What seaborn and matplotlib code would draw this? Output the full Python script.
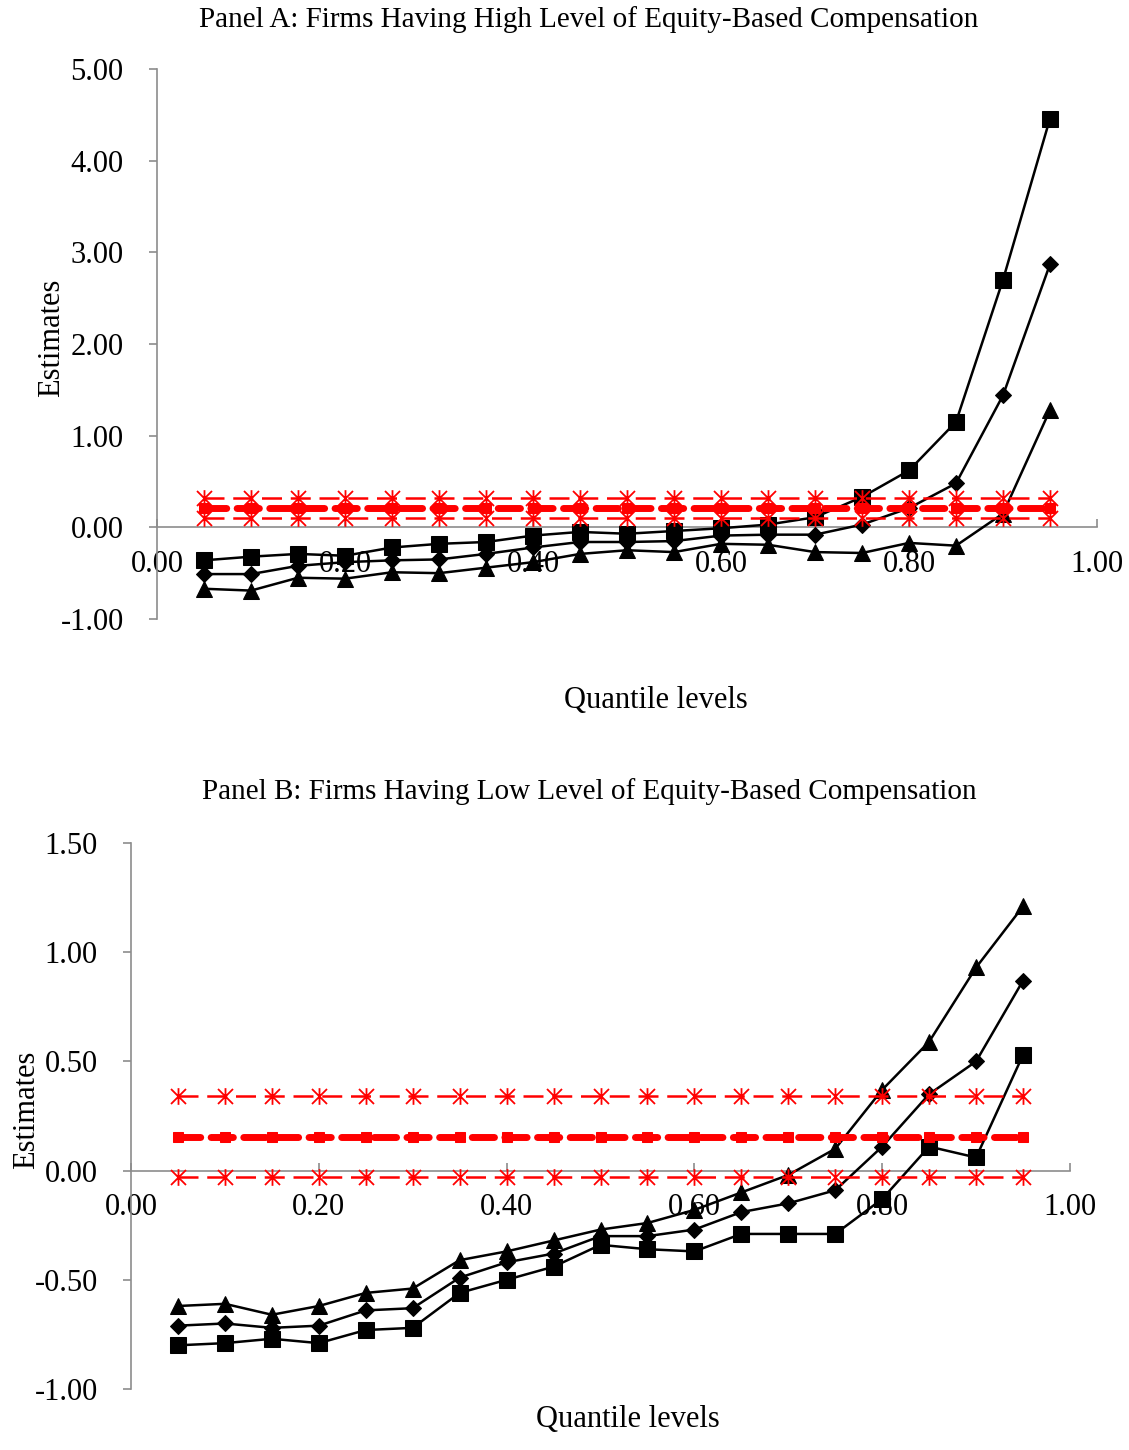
import numpy as np
import pandas as pd
import matplotlib
matplotlib.use("Agg")
import matplotlib.pyplot as plt
from matplotlib.path import Path
import seaborn as sns

# ---------------- data ----------------
quantiles = [0.05, 0.10, 0.15, 0.20, 0.25, 0.30, 0.35, 0.40, 0.45, 0.50,
             0.55, 0.60, 0.65, 0.70, 0.75, 0.80, 0.85, 0.90, 0.95]

# Panel A: high equity-based compensation
a_upper = [-0.36, -0.32, -0.29, -0.31, -0.22, -0.18, -0.16, -0.09, -0.05, -0.07,
           -0.04, -0.01, 0.03, 0.11, 0.33, 0.62, 1.15, 2.70, 4.46]
a_mid = [-0.51, -0.51, -0.42, -0.38, -0.36, -0.35, -0.29, -0.22, -0.16, -0.16,
         -0.15, -0.09, -0.08, -0.08, 0.03, 0.21, 0.48, 1.44, 2.87]
a_lower = [-0.67, -0.69, -0.55, -0.56, -0.49, -0.50, -0.44, -0.38, -0.29, -0.25,
           -0.27, -0.18, -0.19, -0.27, -0.28, -0.17, -0.20, 0.15, 1.28]
a_ols = 0.21
a_ols_hi = 0.32
a_ols_lo = 0.10

# Panel B: low equity-based compensation
b_upper = [-0.62, -0.61, -0.66, -0.62, -0.56, -0.54, -0.41, -0.37, -0.32, -0.27,
           -0.24, -0.18, -0.10, -0.02, 0.10, 0.37, 0.59, 0.93, 1.21]
b_mid = [-0.71, -0.70, -0.72, -0.71, -0.64, -0.63, -0.49, -0.42, -0.38, -0.30,
         -0.30, -0.27, -0.19, -0.15, -0.09, 0.11, 0.35, 0.50, 0.87]
b_lower = [-0.80, -0.79, -0.77, -0.79, -0.73, -0.72, -0.56, -0.50, -0.44, -0.34,
           -0.36, -0.37, -0.29, -0.29, -0.29, -0.13, 0.11, 0.06, 0.53]
b_ols = 0.155
b_ols_hi = 0.34
b_ols_lo = -0.03

xticks = [0.0, 0.2, 0.4, 0.6, 0.8, 1.0]
a_yticks = [-1, 0, 1, 2, 3, 4, 5]
b_yticks = [-1.0, -0.5, 0.0, 0.5, 1.0, 1.5]

title_a = "Panel A: Firms Having High Level of Equity-Based Compensation"
title_b = "Panel B: Firms Having Low Level of Equity-Based Compensation"

# ---------------- style ----------------
sns.set_theme(style="white")
plt.rcParams['font.family'] = ['Liberation Serif', 'DejaVu Serif']
plt.rcParams['text.color'] = 'black'

# asterisk marker (vertical + two diagonals)
ast_verts = [(0, -1), (0, 1), (-0.9, -0.9), (0.9, 0.9), (-0.9, 0.9), (0.9, -0.9)]
ast_codes = [Path.MOVETO, Path.LINETO] * 3
asterisk = Path(ast_verts, ast_codes)

fig = plt.figure(figsize=(11.29, 14.5), dpi=100)
ax_a = fig.add_axes([157/1129, 1 - 619/1450, (1097-157)/1129, (619-69)/1450])
ax_b = fig.add_axes([131/1129, 1 - 1389/1450, (1070-131)/1129, (1389-843)/1450])

MK = {"s": 11, "D": 8, "^": 11}


def draw_panel(ax, upper, mid, lower, markers, ols, hi, lo, yticks, ylim, title,
               title_xy, xlabel_xy, ylabel_xy):
    df = pd.DataFrame({"q": quantiles, "up": upper, "mid": mid, "low": lower,
                       "ols": [ols]*len(quantiles), "hi": [hi]*len(quantiles),
                       "lo": [lo]*len(quantiles)})
    # black quantile-regression series
    for col, mk in zip(["up", "mid", "low"], markers):
        sns.lineplot(data=df, x="q", y=col, ax=ax, color="black", lw=1.8,
                     marker=mk, markersize=MK[mk], markeredgecolor="black",
                     markerfacecolor="black", zorder=3)
    # red OLS + confidence bounds
    for col in ["hi", "lo"]:
        sns.lineplot(data=df, x="q", y=col, ax=ax, color="red", lw=1.8,
                     marker=asterisk, markersize=12,
                     markeredgecolor="red", markerfacecolor="none",
                     markeredgewidth=1.3, zorder=4)
        ax.lines[-1].set_dashes([8, 3.5])
    sns.lineplot(data=df, x="q", y="ols", ax=ax, color="red", lw=5,
                 marker="s", markersize=7, markeredgecolor="red",
                 markerfacecolor="red", zorder=4)
    ax.lines[-1].set_dashes([3.2, 1.5])
    ax.lines[-1].set_dash_capstyle("round")

    ax.set_xlim(0, 1.0)
    ax.set_ylim(*ylim)
    ax.set_xticks(xticks)
    ax.set_xticklabels([f"{v:.2f}" for v in xticks])
    ax.set_yticks(yticks)
    ax.set_yticklabels([f"{v:.2f}" for v in yticks])
    ax.set_xlabel("")
    ax.set_ylabel("")

    for s in ["top", "right"]:
        ax.spines[s].set_visible(False)
    ax.spines["bottom"].set_position(("data", 0))
    for s in ["left", "bottom"]:
        ax.spines[s].set_color("#8c8c8c")
        ax.spines[s].set_linewidth(1.2)
    ax.tick_params(axis="x", direction="in", length=6, width=1.2,
                   color="#8c8c8c", pad=16, labelsize=22, labelcolor="black",
                   bottom=True)
    ax.tick_params(axis="y", direction="out", length=6, width=1.2,
                   color="#8c8c8c", pad=18, labelsize=22, labelcolor="black",
                   left=True)
    ax.grid(False)
    ax.set_facecolor("white")

    fig.text(title_xy[0], title_xy[1], title, ha="center", va="center",
             fontsize=21, color="black")
    fig.text(xlabel_xy[0], xlabel_xy[1], "Quantile levels", ha="center",
             va="center", fontsize=22, color="black")
    fig.text(ylabel_xy[0], ylabel_xy[1], "Estimates", ha="center", va="center",
             rotation=90, fontsize=22, color="black")


draw_panel(ax_a, a_upper, a_mid, a_lower, ["s", "D", "^"],
           a_ols, a_ols_hi, a_ols_lo, a_yticks, (-1.0, 5.0), title_a,
           (589/1129, 1 - 20/1450), (656/1129, 1 - 700/1450),
           (52/1129, 1 - 338/1450))
draw_panel(ax_b, b_upper, b_mid, b_lower, ["^", "D", "s"],
           b_ols, b_ols_hi, b_ols_lo, b_yticks, (-1.0, 1.5), title_b,
           (589/1129, 1 - 792/1450), (628/1129, 1 - 1420/1450),
           (27/1129, 1 - 1110/1450))

fig.savefig("out.png", dpi=100, facecolor="white")
